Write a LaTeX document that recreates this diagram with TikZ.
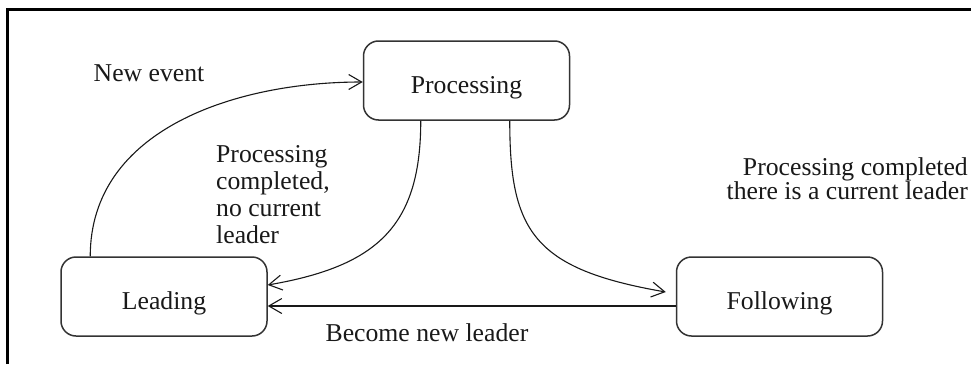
\documentclass[tikz,border=0pt]{standalone}
\usepackage{fontspec}
\setmainfont{Liberation Serif}
\usetikzlibrary{arrows.meta,calc}
\begin{document}
\begin{tikzpicture}[x=1pt,y=-1pt,
  statebox/.style={draw=black!80, line width=1.5pt, rounded corners=15pt,
    minimum width=206pt, minimum height=79pt, inner sep=0pt,
    text height=25pt, text depth=0pt, text=black!90,
    font=\fontsize{25.7}{27}\selectfont},
  lbl/.style={inner sep=0pt, text=black!90, font=\fontsize{25.7}{27}\selectfont},
  arr/.style={line width=1.1pt, black!90,
    -{Straight Barb[length=13pt,width=15pt,line width=1.1pt]}}]
\useasboundingbox (0,0) rectangle (971,364);
\fill[white] (0,0) rectangle (971,364);
\coordinate (fbl) at (7,364);
\coordinate (ftl) at (7,9);
\coordinate (ftr) at (971,9);
\draw[line width=3pt] (fbl) -- (ftl) -- (ftr);
\node[statebox] (proc) at (466.5,80.5) {Processing};
\node[statebox] (lead) at (164,296.5) {Leading};
\node[statebox] (follow) at (779.5,296.5) {Following};
\draw[arr] ($(lead.north west)+(30,0)$) .. controls +(0,-127) and +(-127,0) .. ($(proc.west)+(0,1.5)$);
\draw[arr] ($(proc.south west)+(58,0)$) .. controls +(0,105) and +(110,-19) .. ($(lead.east)+(0,-11.5)$);
\draw[arr] ($(proc.south west)+(147,0)$) .. controls +(0,110) and +(-133,-23) .. ($(follow.west)+(-10,-4.5)$);
\draw[arr] ($(follow.west)+(0,9.5)$) -- ($(lead.east)+(0,9.5)$);
\node[lbl] (ne) at (149,73.5) {New event};
\node[lbl, align=left, anchor=north west] (pc) at (216,145) {Processing\\completed,\\no current\\leader};
\node[lbl, align=right, anchor=north east, font=\fontsize{25.7}{23.5}\selectfont] (pcr) at (968,157.5) {Processing completed\\there is a current leader};
\node[lbl] (bn) at (427,332.5) {Become new leader};
\end{tikzpicture}
\end{document}
